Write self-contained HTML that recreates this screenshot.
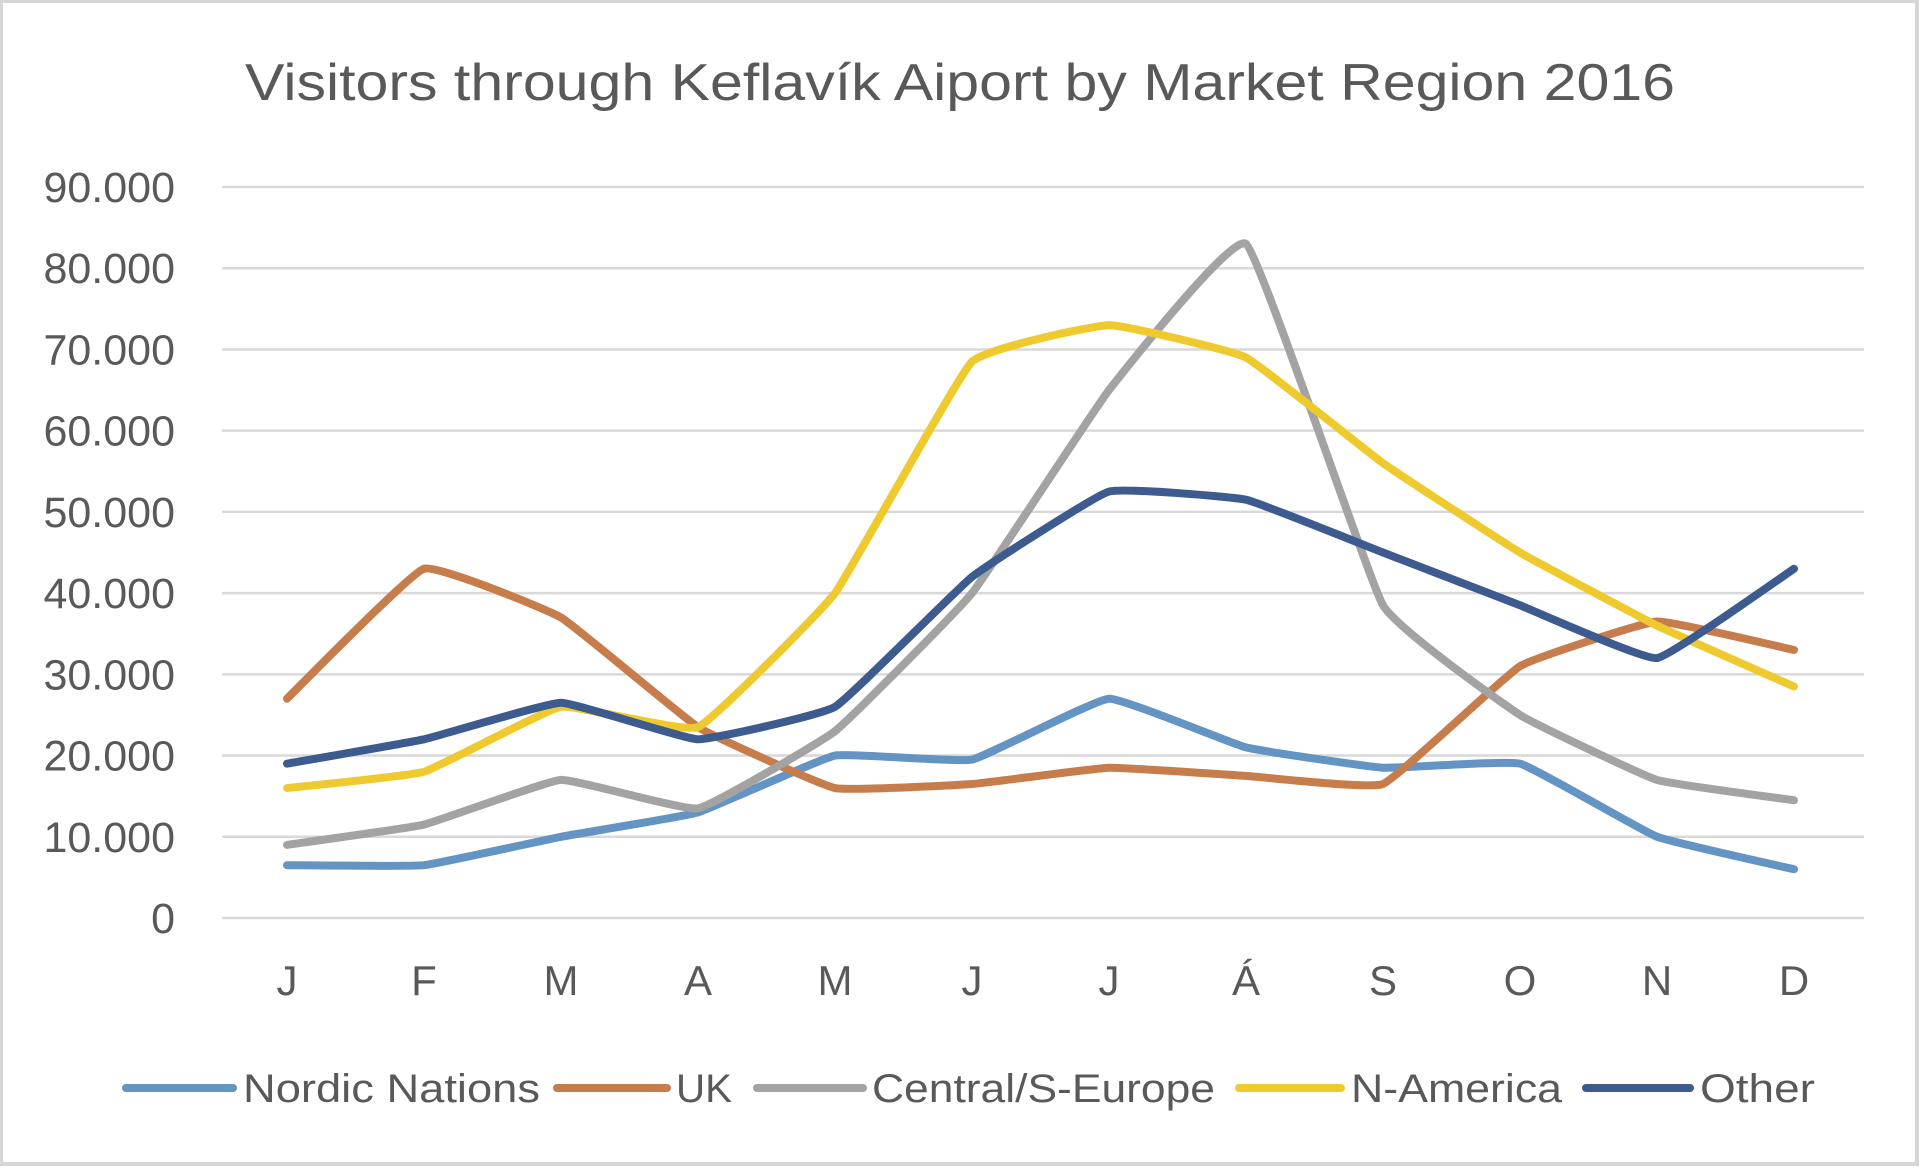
<!DOCTYPE html>
<html><head><meta charset="utf-8"><style>
html,body{margin:0;padding:0;background:#fff;}
svg{display:block;font-family:"Liberation Sans",sans-serif;}
</style></head><body>
<svg id="chart" width="1920" height="1168">
<rect x="1" y="1" width="1916" height="1163" fill="#fff" stroke="#d6d6d6" stroke-width="4"/>
<text x="960" y="100" text-anchor="middle" font-size="52" fill="#595959" textLength="1430" lengthAdjust="spacingAndGlyphs">Visitors through Keflavík Aiport by Market Region 2016</text>
<g id="grid"></g><g id="yticks"></g><g id="xticks"></g><g id="lines"></g><g id="legend"></g>
</svg>
<script>
const months = ["J","F","M","A","M","J","J","Á","S","O","N","D"];
const yTicks = [0,10000,20000,30000,40000,50000,60000,70000,80000,90000];
const yTickLabels = ["0","10.000","20.000","30.000","40.000","50.000","60.000","70.000","80.000","90.000"];
const seriesNames = ["Nordic Nations","UK","Central/S-Europe","N-America","Other"];
const nordic = [6500,6500,10000,13000,20000,19500,27000,21000,18500,19000,10000,6000];
const uk = [27000,43000,37000,23500,16000,16500,18500,17500,16500,31000,36500,33000];
const central = [9000,11500,17000,13500,23000,40000,65000,83000,38500,25000,17000,14500];
const namerica = [16000,18000,26000,23500,40000,68500,73000,69000,56000,45000,36000,28500];
const other = [19000,22000,26500,22000,26000,42000,52500,51500,45000,38500,32000,43000];
const seriesValues = [nordic, uk, central, namerica, other];
const colors = ["#6394c4","#c77d4b","#a3a3a3","#efca2e","#3d5b8f"];
const NS="http://www.w3.org/2000/svg";
const y = v => 918 - v*(918-187)/90000;
const x = i => 287 + i*(1794-287)/11;
function mk(tag, attrs, parent){const e=document.createElementNS(NS,tag);for(const k in attrs)e.setAttribute(k,attrs[k]);parent.appendChild(e);return e;}
function smooth(pts){
  const t=0.05; let d='M'+pts[0][0]+','+pts[0][1];
  for(let i=0;i<pts.length-1;i++){
    const p0=pts[i-1]||pts[i], p1=pts[i], p2=pts[i+1], p3=pts[i+2]||p2;
    const c1=[p1[0]+(p2[0]-p0[0])*t, p1[1]+(p2[1]-p0[1])*t];
    const c2=[p2[0]-(p3[0]-p1[0])*t, p2[1]-(p3[1]-p1[1])*t];
    d+=' C'+c1[0]+','+c1[1]+' '+c2[0]+','+c2[1]+' '+p2[0]+','+p2[1];
  }
  return d;
}
const grid=document.getElementById('grid'), yt=document.getElementById('yticks'), xt=document.getElementById('xticks'), lines=document.getElementById('lines'), leg=document.getElementById('legend');
yTicks.forEach((v,i)=>{
  const l=mk('line',{x1:222,x2:1864,y1:y(v),y2:y(v),stroke:'#d9d9d9','stroke-width':2.5},grid);
  
  
  const t=mk('text',{x:175,y:y(v)+15,'text-anchor':'end','font-size':43,fill:'#595959'},yt);
  t.textContent=yTickLabels[i];
  
  
});
months.forEach((m,i)=>{
  const t=mk('text',{x:x(i),y:995,'text-anchor':'middle','font-size':42,fill:'#595959'},xt);
  t.textContent=m;
  
  
});
seriesValues.forEach((vals,s)=>{
  const p=mk('path',{d:smooth(vals.map((v,i)=>[x(i),y(v)])),fill:'none',stroke:colors[s],'stroke-width':8,'stroke-linejoin':'round','stroke-linecap':'round'},lines);
  
  
});
const legX=[[126,233,243,297],[557,667,676,56],[757,863,872,343],[1239,1341,1351,211],[1586,1690,1700,115]];
seriesNames.forEach((n,s)=>{
  const g=mk('g',{},leg);
  
  
  mk('line',{x1:legX[s][0],x2:legX[s][1],y1:1088,y2:1088,stroke:colors[s],'stroke-width':8,'stroke-linecap':'round'},g);
  const t=mk('text',{x:legX[s][2],y:1102,'font-size':40,fill:'#595959',textLength:legX[s][3],lengthAdjust:'spacingAndGlyphs'},g);
  t.textContent=n;
});
</script>
</body></html>
